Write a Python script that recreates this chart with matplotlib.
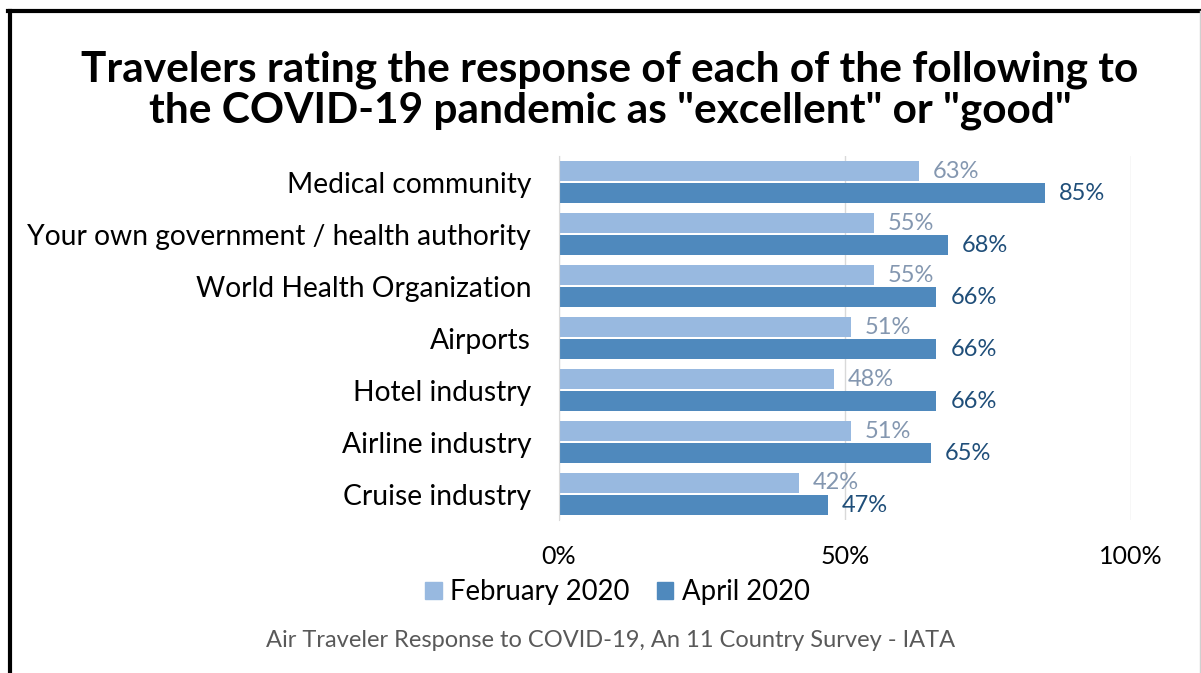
import matplotlib.pyplot as plt
import numpy as np
from matplotlib.lines import Line2D

plt.rcParams['font.family'] = ['Lato', 'DejaVu Sans']

categories = ['Medical community', 'Your own government / health authority',
              'World Health Organization', 'Airports', 'Hotel industry',
              'Airline industry', 'Cruise industry']
feb_2020 = [63, 55, 55, 51, 48, 51, 42]
apr_2020 = [85, 68, 66, 66, 66, 65, 47]
x_ticks = [0, 50, 100]

feb_color = '#98B9E0'
apr_color = '#4F89BD'

fig = plt.figure(figsize=(12.01, 6.73), dpi=100)
ax = fig.add_axes([0.4654, 0.2273, 0.4763, 0.5407])

y = np.arange(len(categories))
h = 0.385
gap = 0.04
b1 = ax.barh(y - h / 2 - gap / 2, feb_2020, height=h, color=feb_color, zorder=2)
b2 = ax.barh(y + h / 2 + gap / 2, apr_2020, height=h, color=apr_color, zorder=2)

for bar, v in zip(b1, feb_2020):
    ax.annotate(f'{v}%', xy=(bar.get_width(), bar.get_y() + bar.get_height() / 2),
                xytext=(10, 0), textcoords='offset points', va='center', ha='left',
                fontsize=17, color='#8497B0')
for bar, v in zip(b2, apr_2020):
    ax.annotate(f'{v}%', xy=(bar.get_width(), bar.get_y() + bar.get_height() / 2),
                xytext=(10, 0), textcoords='offset points', va='center', ha='left',
                fontsize=17, color='#1F4E79')

ax.set_xlim(0, 100)
ax.set_ylim(len(categories) - 0.5, -0.5)
ax.set_yticks(y)
ax.set_yticklabels(categories, fontsize=20.3)
ax.set_xticks(x_ticks)
ax.set_xticklabels([f'{t}%' for t in x_ticks], fontsize=18)
ax.tick_params(axis='y', length=0, pad=20)
ax.tick_params(axis='x', length=0, pad=18)
ax.grid(axis='x', color='#D9D9D9', linewidth=1, zorder=0)
for s in ['top', 'right', 'bottom']:
    ax.spines[s].set_visible(False)
ax.spines['left'].set_color('#D9D9D9')

handles = [plt.Rectangle((0, 0), 1, 1, color=feb_color),
           plt.Rectangle((0, 0), 1, 1, color=apr_color)]
fig.legend(handles, ['February 2020', 'April 2020'], loc='center',
           bbox_to_anchor=(0.514, 0.12), ncol=2, frameon=False, fontsize=19.8,
           handlelength=0.6, handleheight=0.6, handletextpad=0.3, columnspacing=1.0)

fig.text(0.508, 0.866, 'Travelers rating the response of each of the following to\n'
         'the COVID-19 pandemic as "excellent" or "good"',
         ha='center', va='center', fontsize=30.5, fontweight='bold', linespacing=1.07)
fig.text(0.508, 0.048, 'Air Traveler Response to COVID-19, An 11 Country Survey - IATA',
         ha='center', va='center', fontsize=17, color='#595959')

# frame around the chart
fig.add_artist(Line2D([0.008, 0.008], [0, 0.984], color='black', lw=3))
fig.add_artist(Line2D([0.007, 1], [0.984, 0.984], color='black', lw=3))
fig.add_artist(Line2D([0.9995, 0.9995], [0, 0.984], color='#D0D0D0', lw=1))

fig.savefig('out.png', dpi=100)
